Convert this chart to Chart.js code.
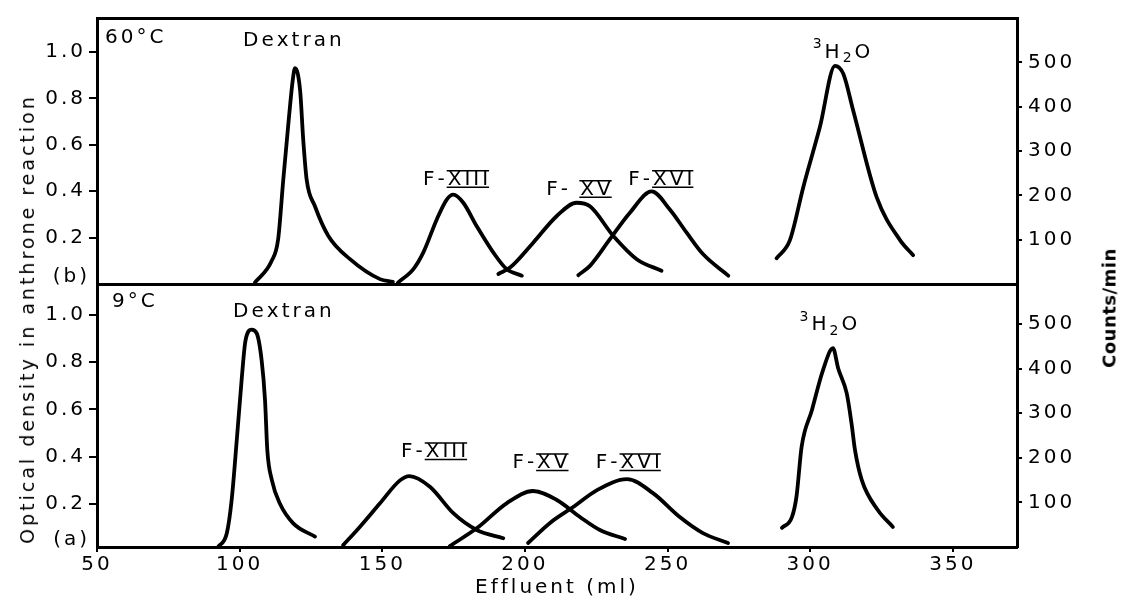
<!DOCTYPE html>
<html>
<head>
<meta charset="utf-8">
<script src="https://cdn.jsdelivr.net/npm/chart.js@4"></script>
<style>
  body { margin: 0; background: #fff; }
  #wrap { position: relative; width: 1121px; height: 604px; font-family: 'DejaVu Sans'; color: #000; }
  canvas { position: absolute; left: 0; top: 0; }
  .ytitle { position: absolute; white-space: nowrap; transform: translate(-50%, -50%) rotate(-90deg); }
</style>
</head>
<body>
<div id="wrap">
  <canvas id="top" width="1121" height="604"></canvas>
  <canvas id="bottom" width="1121" height="604"></canvas>
  <div class="ytitle" style="left:27px;top:319px;font-size:19px;letter-spacing:3px">Optical density in anthrone reaction</div>
  <div class="ytitle" style="left:1109px;top:308px;font-size:18px;font-weight:bold;letter-spacing:0.5px">Counts/min</div>
</div>
<script>
"use strict";
// (b) 60 °C : effluent (ml) vs optical density / counts per min
const dex60Ml = [105.4, 111.2, 113.5, 115.3, 117.1, 118.6, 119.4, 121.2, 122.3, 123.5, 126.4, 131.1, 138.7, 149.2, 153.7];
const dex60Od = [0.007, 0.099, 0.193, 0.45, 0.693, 0.877, 0.93, 0.834, 0.62, 0.449, 0.335, 0.207, 0.107, 0.021, 0.009];
const f13at60Ml = [155.5, 160.9, 164.4, 169.1, 172.6, 174.9, 178.4, 183.1, 188.9, 193.6, 198.9];
const f13at60Od = [0.006, 0.064, 0.136, 0.278, 0.364, 0.385, 0.35, 0.249, 0.136, 0.064, 0.036];
const f15at60Ml = [190.7, 194.8, 202.9, 211.1, 218.1, 222.8, 231.0, 239.2, 247.9];
const f15at60Od = [0.043, 0.071, 0.178, 0.292, 0.35, 0.335, 0.207, 0.107, 0.057];
const f16at60Ml = [218.7, 222.8, 229.8, 236.8, 244.4, 250.8, 256.7, 262.5, 271.3];
const f16at60Od = [0.038, 0.078, 0.193, 0.307, 0.399, 0.321, 0.221, 0.128, 0.036];
const h2oAt60Ml = [288.2, 292.9, 297.6, 303.4, 308.7, 311.6, 315.1, 323.3, 331.5, 336.1];
const h2oAt60Cpm = [58, 99, 219, 354, 492, 474, 391, 196, 99, 65];

// (a) 9 °C
const dex9Ml = [92.5, 95.5, 97.2, 99.0, 100.7, 101.9, 103.0, 104.2, 106.0, 107.7, 108.9, 109.7, 111.3, 114.1, 118.8, 126.4];
const dex9Od = [0.019, 0.076, 0.217, 0.471, 0.725, 0.88, 0.929, 0.938, 0.922, 0.809, 0.64, 0.428, 0.301, 0.202, 0.118, 0.062];
const f13at9Ml = [136.3, 142.2, 149.2, 156.2, 159.5, 166.7, 174.9, 183.1, 192.4];
const f13at9Od = [0.026, 0.104, 0.203, 0.30, 0.318, 0.273, 0.161, 0.09, 0.055];
const f15at9Ml = [173.7, 183.2, 193.7, 202.8, 211.2, 219.3, 226.3, 235.1];
const f15at9Od = [0.022, 0.098, 0.204, 0.255, 0.217, 0.145, 0.09, 0.052];
const f16at9Ml = [201.1, 208.8, 216.9, 225.3, 235.8, 244.9, 254.3, 262.4, 271.2];
const f16at9Od = [0.035, 0.12, 0.187, 0.259, 0.305, 0.246, 0.145, 0.077, 0.035];
const h2oAt9Ml = [290.1, 293.6, 295.2, 297.0, 300.6, 304.5, 308.0, 309.8, 312.8, 314.5, 315.7, 318.1, 323.7, 329.0];
const h2oAt9Cpm = [43, 67, 113, 225, 307, 397, 446, 401, 345, 277, 218, 150, 83, 45];

// axis ticks
const mlTicks = [50, 100, 150, 200, 250, 300, 350];
const odTicks = [0.2, 0.4, 0.6, 0.8, 1.0];
const cpmTicks = [100, 200, 300, 400, 500];

// peak labels, anchored in data units (ml, optical density)
const topLabels = [
  { text: '60°C', x: 52.8, y: 1.06, align: 'left' },
  { text: 'Dextran', x: 119.0, y: 1.048 },
  { text: 'F-', roman: 'XIII', x: 176.2, y: 0.449 },
  { text: 'F- ', roman: 'XV', x: 219.3, y: 0.406 },
  { text: 'F-', roman: 'XVI', x: 248.0, y: 0.449 },
  { text: '³H₂O', x: 311.5, y: 0.997 },
  { text: '(b)', outside: true, y: 0.03 }
];
const bottomLabels = [
  { text: '9°C', x: 55.3, y: 1.055, align: 'left' },
  { text: 'Dextran', x: 115.5, y: 1.013 },
  { text: 'F-', roman: 'XIII', x: 168.5, y: 0.42 },
  { text: 'F-', roman: 'XV', x: 205.8, y: 0.373 },
  { text: 'F-', roman: 'XVI', x: 236.6, y: 0.373 },
  { text: '³H₂O', x: 306.9, y: 0.958 },
  { text: '(a)', outside: true, y: 0.048 }
];

const FONT = 'DejaVu Sans';
const GAP = '3px';
Chart.defaults.font.family = FONT;
Chart.defaults.font.size = 20;
Chart.defaults.color = '#000';

const spacing = {
  id: 'spacing',
  beforeDraw(chart) { chart.ctx.letterSpacing = GAP; }
};

// superscript / subscript digits are drawn smaller and shifted
const SHIFT = { '³': ['3', -8], '₂': ['2', 6] };
function pieces(text) {
  return Array.from(text).map(c => SHIFT[c] ? { t: SHIFT[c][0], dy: SHIFT[c][1], size: 14 } : { t: c, dy: 0, size: 20 });
}
function richWidth(ctx, text) {
  let w = 0;
  for (const p of pieces(text)) {
    ctx.font = p.size + 'px "' + FONT + '"';
    w += ctx.measureText(p.t).width;
  }
  return w;
}
function richDraw(ctx, text, x, y) {
  for (const p of pieces(text)) {
    ctx.font = p.size + 'px "' + FONT + '"';
    ctx.fillText(p.t, x, y + p.dy);
    x += ctx.measureText(p.t).width;
  }
  ctx.font = '20px "' + FONT + '"';
}

const panelText = {
  id: 'panelText',
  afterDatasetsDraw(chart, args, opts) {
    const { ctx, chartArea } = chart;
    const xs = chart.scales.x, ys = chart.scales.y;
    ctx.save();
    ctx.letterSpacing = GAP;
    ctx.fillStyle = '#000';
    ctx.strokeStyle = '#000';
    ctx.lineWidth = 1.5;
    ctx.textBaseline = 'middle';
    ctx.textAlign = 'left';
    for (const t of opts.items) {
      const py = ys.getPixelForValue(t.y);
      const w1 = richWidth(ctx, t.text);
      const w2 = t.roman ? richWidth(ctx, t.roman) : 0;
      let left;
      if (t.outside) left = chartArea.left - 7 - w1;
      else if (t.align === 'left') left = xs.getPixelForValue(t.x);
      else left = xs.getPixelForValue(t.x) - (w1 + w2) / 2;
      richDraw(ctx, t.text, left, py);
      if (t.roman) {
        const a = left + w1, b = a + w2 - 3;
        richDraw(ctx, t.roman, a, py);
        ctx.beginPath();
        ctx.moveTo(a - 1, py - 9); ctx.lineTo(b + 1, py - 9);
        ctx.moveTo(a - 1, py + 7.5); ctx.lineTo(b + 1, py + 7.5);
        ctx.stroke();
      }
    }
    ctx.restore();
  }
};

function line(xs, ys, axis) {
  return {
    data: xs.map((x, i) => ({ x: x, y: ys[i] })),
    yAxisID: axis || 'y',
    borderColor: '#000',
    borderWidth: 3.8,
    pointRadius: 0,
    cubicInterpolationMode: 'monotone',
    borderCapStyle: 'round',
    borderJoinStyle: 'round',
    fill: false
  };
}

const fixTicks = list => s => { s.ticks = list.map(v => ({ value: v })); };

function panel(id, datasets, items, yMin, yMax, cMax, isBottom) {
  const edge = { color: '#000', width: 3 };
  const tickGrid = len => ({ drawOnChartArea: false, drawTicks: true, tickLength: len, color: '#000', lineWidth: 2 });
  return new Chart(document.getElementById(id), {
    type: 'line',
    data: { datasets: datasets },
    options: {
      responsive: false,
      animation: false,
      layout: { padding: isBottom ? { top: 284 } : { top: 17, bottom: 320 } },
      plugins: {
        legend: { display: false },
        tooltip: { enabled: false },
        panelText: { items: items }
      },
      scales: {
        x: {
          type: 'linear', position: 'bottom', display: isBottom, min: 50, max: 372.5,
          afterBuildTicks: fixTicks(mlTicks),
          ticks: { padding: 1 },
          grid: tickGrid(5), border: edge,
          title: { display: true, text: 'Effluent (ml)', padding: { top: 0, bottom: 4 } },
          afterFit: s => { s.height = isBottom ? 57 : 0; }
        },
        xTop: {
          type: 'linear', position: 'top', min: 50, max: 372.5,
          ticks: { display: false }, grid: { display: false, drawTicks: false }, border: edge,
          afterFit: s => { s.height = 0; }
        },
        y: {
          position: 'left', min: yMin, max: yMax,
          afterBuildTicks: fixTicks(odTicks),
          ticks: { padding: 3, callback: v => v.toFixed(1) },
          grid: tickGrid(8), border: edge,
          afterFit: s => { s.width = 97; }
        },
        y2: {
          position: 'right', min: 0, max: cMax,
          afterBuildTicks: fixTicks(cpmTicks),
          ticks: { padding: 6 },
          grid: tickGrid(5), border: edge,
          afterFit: s => { s.width = 104; }
        }
      }
    },
    plugins: [spacing, panelText]
  });
}

panel('top', [
  line(dex60Ml, dex60Od),
  line(f13at60Ml, f13at60Od),
  line(f15at60Ml, f15at60Od),
  line(f16at60Ml, f16at60Od),
  line(h2oAt60Ml, h2oAt60Cpm, 'y2')
], topLabels, 0, 1.146, 600, false);

panel('bottom', [
  line(dex9Ml, dex9Od),
  line(f13at9Ml, f13at9Od),
  line(f15at9Ml, f15at9Od),
  line(f16at9Ml, f16at9Od),
  line(h2oAt9Ml, h2oAt9Cpm, 'y2')
], bottomLabels, 0.018, 1.131, 590, true);
</script>
</body>
</html>
